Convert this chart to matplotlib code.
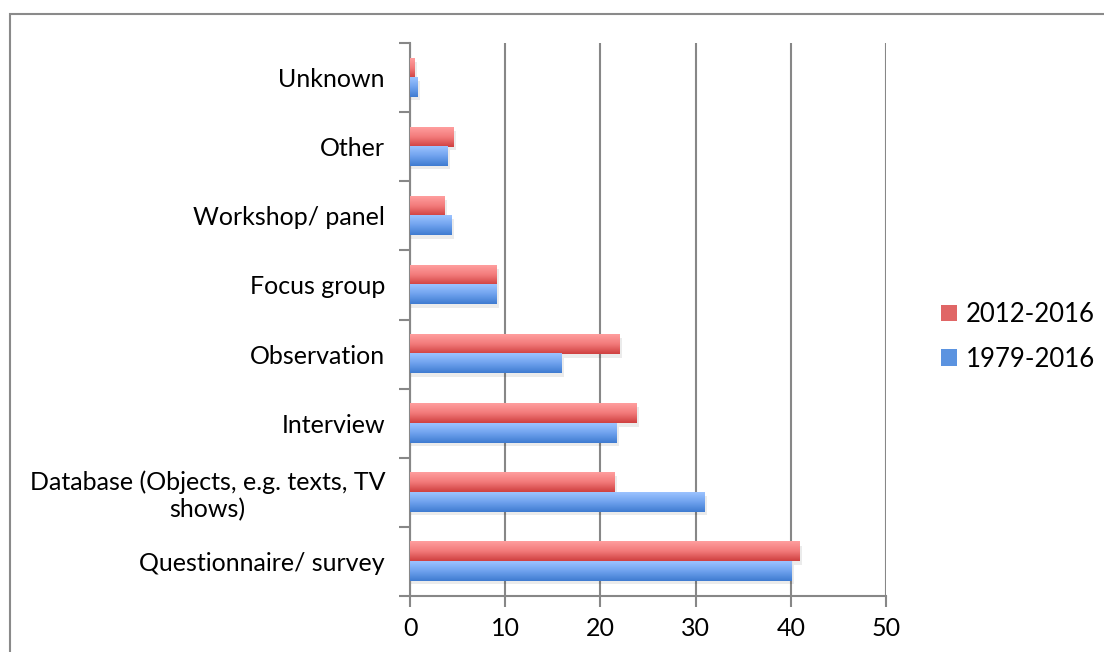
import numpy as np
import matplotlib.pyplot as plt
from matplotlib.patches import Rectangle
from matplotlib.colors import LinearSegmentedColormap

# data, bottom to top
categories = ["Questionnaire/ survey", "Database (Objects, e.g. texts, TV\nshows)",
              "Interview", "Observation", "Focus group", "Workshop/ panel",
              "Other", "Unknown"]
recent = [40.9, 21.5, 23.8, 22.0, 9.1, 3.6, 4.6, 0.5]      # 2012-2016
alltime = [40.1, 30.9, 21.7, 15.9, 9.1, 4.4, 3.9, 0.8]     # 1979-2016
xticks = [0, 10, 20, 30, 40, 50]

plt.rcParams['font.family'] = ['Lato', 'DejaVu Sans']
grey = "#878787"

fig = plt.figure(figsize=(11.04, 6.52), dpi=100)
ax = fig.add_axes([410/1104, 1-596/652, 476/1104, 553/652])

# outer chart border
fig.patches.append(Rectangle((10/1104, -0.1), 1.2, 1-14/652+0.1,
                             transform=fig.transFigure, fill=False,
                             edgecolor="#8a8a8a", linewidth=1.5))

y = np.arange(len(categories))
h = 0.28
red_bars = ax.barh(y + h/2, recent, height=h, color="#e06666", label="2012-2016", zorder=3)
blue_bars = ax.barh(y - h/2, alltime, height=h, color="#5b93e0", label="1979-2016", zorder=3)

red_cmap = LinearSegmentedColormap.from_list("r", ["#cf4040", "#f27a7a", "#ff9e9e"])
blue_cmap = LinearSegmentedColormap.from_list("b", ["#3f7bd0", "#6fa2ee", "#9cc3ff"])
grad = np.linspace(0, 1, 64).reshape(-1, 1)
for bars, cmap in [(red_bars, red_cmap), (blue_bars, blue_cmap)]:
    for b in bars:
        x0, y0 = b.get_x(), b.get_y()
        w, hh = b.get_width(), b.get_height()
        # soft shadow below/right
        ax.add_patch(Rectangle((x0 + 0.1, y0 - 0.05), w + 0.15, hh, color="black",
                               alpha=0.08, zorder=2, linewidth=0))
        ax.imshow(grad, cmap=cmap, extent=[x0, x0 + w, y0, y0 + hh],
                  aspect="auto", origin="lower", zorder=3.5, interpolation="bilinear")

ax.set_xlim(0, 50)
ax.set_ylim(-0.5, len(categories) - 0.5)
ax.set_xticks(xticks)
ax.set_yticks(y)
ax.set_yticklabels(categories, multialignment="center")
ax.set_yticks(np.arange(-0.5, len(categories)), minor=True)
ax.tick_params(axis="y", which="major", length=0, pad=18, labelsize=18, colors="black")
ax.tick_params(axis="y", which="minor", length=8, width=1.5, color=grey, direction="out")
ax.tick_params(axis="x", length=8, width=1.5, color=grey, labelsize=18, pad=7)
ax.grid(axis="x", color=grey, linewidth=1.5, zorder=0)
ax.set_axisbelow(True)
for s in ["top", "right"]:
    ax.spines[s].set_visible(False)
for s in ["left", "bottom"]:
    ax.spines[s].set_color(grey)
    ax.spines[s].set_linewidth(1.5)

handles, labels = ax.get_legend_handles_labels()
fig.legend(handles, labels, loc="center left", bbox_to_anchor=(918/1104, 1-337/652),
           frameon=False, fontsize=18.5, handlelength=0.6, handleheight=0.6,
           handletextpad=0.35, labelspacing=0.75)

fig.savefig("out.png", dpi=100)
